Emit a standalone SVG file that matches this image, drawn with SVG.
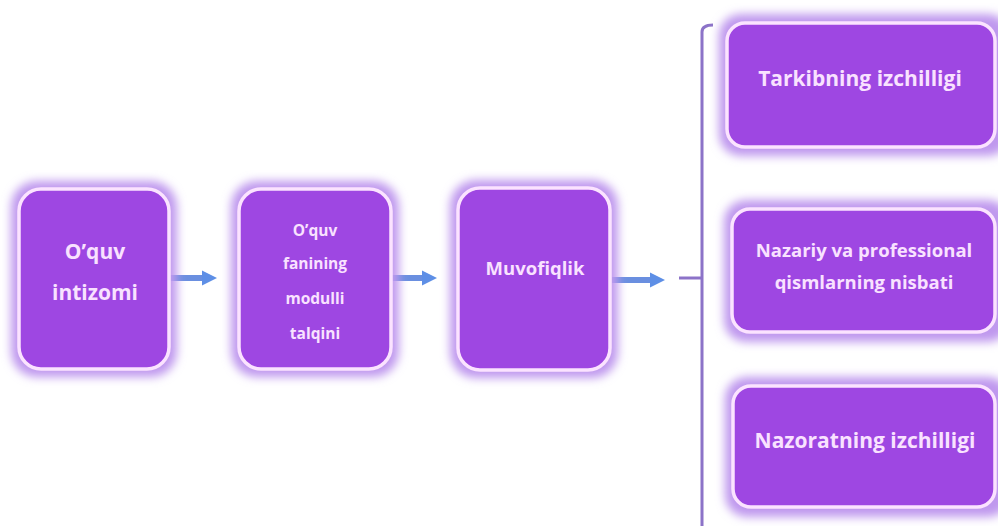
<svg xmlns="http://www.w3.org/2000/svg" width="998" height="526" viewBox="0 0 998 526">
<defs>
<style>
.box{fill:#9E47E2;stroke:#FBE3FF;stroke-width:3.5}
.glow{fill:#BF98EE;filter:url(#blur)}
.t{font-family:"Open Sans","Liberation Sans",sans-serif;font-weight:bold;fill:#F9E2FF;text-anchor:middle}
.arr{stroke:#6A8FE0;stroke-width:6;fill:none;marker-end:url(#ah)}
.arrglow{stroke:#E2B2F2;stroke-width:14;fill:none;filter:url(#blur2)}
.br{stroke:#8C73C8;stroke-width:3;fill:none}
</style>
<filter id="blur" x="-20%" y="-20%" width="140%" height="140%"><feGaussianBlur stdDeviation="5"/></filter>
<filter id="blur2" x="-20%" y="-100%" width="140%" height="300%"><feGaussianBlur stdDeviation="2.5"/></filter>
<marker id="ah" viewBox="0 0 10 10" refX="6" refY="5" markerWidth="2.6" markerHeight="2.6" orient="auto"><path d="M0,0 L10,5 L0,10 z" fill="#5E8FE6"/></marker>
</defs>
<rect width="998" height="526" fill="#FFFFFF"/>
<g id="connectors">
<line class="arrglow" x1="170" y1="278" x2="220" y2="278"/>
<line class="arr" x1="170" y1="278" x2="211" y2="278"/>
<line class="arrglow" x1="392" y1="278" x2="440" y2="278"/>
<line class="arr" x1="392" y1="278" x2="431" y2="278"/>
<line class="arrglow" x1="612" y1="280" x2="668" y2="280"/>
<line class="arr" x1="612" y1="280" x2="659" y2="280"/>
<line class="br" x1="679" y1="278" x2="701" y2="278"/>
<path class="br" d="M713,25 Q702,25 702,32 L702,526"/>
</g>
<g id="n1">
<rect class="glow" x="11" y="181" width="166" height="196" rx="26"/>
<rect class="box" x="19" y="189" width="150" height="180" rx="22"/>
<text class="t" font-size="21" x="95" y="259">O’quv</text>
<text class="t" font-size="21" x="95" y="300">intizomi</text>
</g>
<g id="n2">
<rect class="glow" x="231" y="181" width="168" height="196" rx="26"/>
<rect class="box" x="239" y="189" width="152" height="180" rx="22"/>
<text class="t" font-size="15.5" x="315" y="236">O’quv</text>
<text class="t" font-size="15.5" x="315" y="269">fanining</text>
<text class="t" font-size="15.5" x="315" y="304">modulli</text>
<text class="t" font-size="15.5" x="315" y="339">talqini</text>
</g>
<g id="n3">
<rect class="glow" x="450" y="180" width="168" height="198" rx="26"/>
<rect class="box" x="458" y="188" width="152" height="182" rx="22"/>
<text class="t" font-size="18.5" x="535" y="275">Muvofiqlik</text>
</g>
<g id="n4">
<rect class="glow" x="719" y="14" width="291" height="142" rx="22"/>
<rect class="box" x="727" y="23" width="268" height="124" rx="18"/>
<text class="t" font-size="21" x="860" y="86">Tarkibning izchilligi</text>
</g>
<g id="n5">
<rect class="glow" x="724" y="200" width="286" height="142" rx="22"/>
<rect class="box" x="732" y="209" width="263" height="123" rx="18"/>
<text class="t" font-size="18.5" x="864" y="257">Nazariy va professional</text>
<text class="t" font-size="18.5" x="864" y="289">qismlarning nisbati</text>
</g>
<g id="n6">
<rect class="glow" x="725" y="377" width="285" height="140" rx="22"/>
<rect class="box" x="733" y="386" width="262" height="121" rx="18"/>
<text class="t" font-size="21" x="865" y="448">Nazoratning izchilligi</text>
</g>
</svg>
